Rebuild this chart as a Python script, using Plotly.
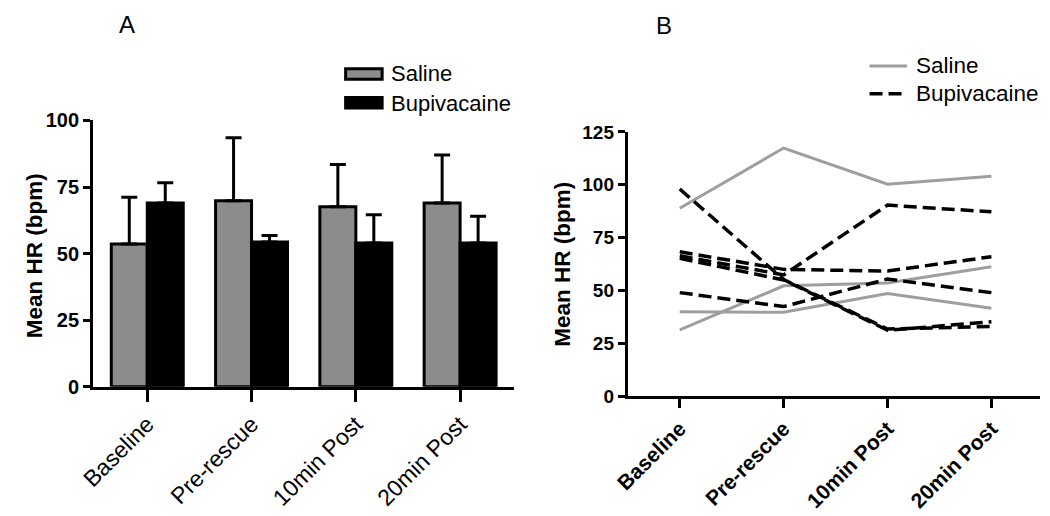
import plotly.graph_objects as go

W, H = 1050, 516

# ---------------- data ----------------
categories = ["Baseline", "Pre-rescue", "10min Post", "20min Post"]

# Panel A: group means and upper SD
saline_mean = [53.6, 69.8, 67.6, 69.0]
saline_err = [17.6, 23.7, 15.9, 18.0]
bupi_mean = [69.0, 54.3, 54.0, 54.0]
bupi_err = [7.6, 2.5, 10.6, 10.0]

# Panel B: individual animals
saline_lines = [
    [88.9, 117.4, 100.3, 104.0],
    [40.0, 39.7, 48.6, 41.6],
    [31.4, 52.2, 53.6, 61.2],
]
bupi_lines = [
    [98.0, 55.2, 31.8, 33.0],
    [68.3, 60.0, 59.2, 66.0],
    [66.4, 57.4, 90.4, 87.2],
    [65.2, 55.0, 31.2, 35.2],
    [49.0, 42.4, 55.4, 49.0],
]

y_ticks_a = [0, 25, 50, 75, 100]
y_ticks_b = [0, 25, 50, 75, 100, 125]

FONT = "Liberation Sans, Arial, sans-serif"
GRAY_BAR = "#8c8c8c"
GRAY_LINE = "#9e9e9e"
OFF = 8  # page body margin


def px(x):
    return (x - OFF) / W


def py(y):
    return 1 - (y - OFF) / H


fig = go.Figure()

# ---- Panel A bars ----
fig.add_trace(go.Bar(
    x=categories, y=saline_mean, name="Saline",
    marker=dict(color=GRAY_BAR, line=dict(color="black", width=3)),
    error_y=dict(type="data", symmetric=False, array=saline_err,
                 arrayminus=[0] * 4, color="black", thickness=3, width=8),
    xaxis="x", yaxis="y", showlegend=False,
))
fig.add_trace(go.Bar(
    x=categories, y=bupi_mean, name="Bupivacaine",
    marker=dict(color="black", line=dict(color="black", width=3)),
    error_y=dict(type="data", symmetric=False, array=bupi_err,
                 arrayminus=[0] * 4, color="black", thickness=3, width=8),
    xaxis="x", yaxis="y", showlegend=False,
))

# ---- Panel B lines ----
for vals in saline_lines:
    fig.add_trace(go.Scatter(
        x=categories, y=vals, mode="lines", name="Saline",
        line=dict(color=GRAY_LINE, width=3),
        xaxis="x2", yaxis="y2", showlegend=False,
    ))
for vals in bupi_lines:
    fig.add_trace(go.Scatter(
        x=categories, y=vals, mode="lines", name="Bupivacaine",
        line=dict(color="black", width=3.5, dash="13px,6px"),
        xaxis="x2", yaxis="y2", showlegend=False,
    ))

axis_common = dict(showgrid=False, zeroline=False, showline=True,
                   linecolor="black", linewidth=3, ticks="outside",
                   tickcolor="black", tickwidth=3)

fig.update_layout(
    width=W, height=H,
    margin=dict(l=0, r=0, t=0, b=0),
    paper_bgcolor="white", plot_bgcolor="white",
    barmode="group", bargap=0.31, bargroupgap=0,
    font=dict(family=FONT, color="black"),
    xaxis=dict(domain=[px(80), px(507)], anchor="y",
               range=[-0.52, 3.52], tickangle=-45, ticklen=12,
               tickfont=dict(size=23, family=FONT, color="black"),
               **axis_common),
    yaxis=dict(domain=[py(392), py(114)], anchor="x",
               range=[0, 100], tickvals=y_ticks_a, ticklen=7,
               tickfont=dict(size=20, family=FONT, color="black", weight="bold"),
               **axis_common),
    xaxis2=dict(domain=[px(622), px(1040)], anchor="y2",
                range=[-0.5, 3.47], tickangle=-45, ticklen=9,
                tickfont=dict(size=21, family=FONT, color="black", weight="bold"),
                **axis_common),
    yaxis2=dict(domain=[py(402), py(126)], anchor="x2",
                range=[0, 125], tickvals=y_ticks_b, ticklen=7,
                tickfont=dict(size=19, family=FONT, color="black", weight="bold"),
                **axis_common),
)


def text(t, x, y, size, xanchor="center", angle=0):
    return dict(text=t, x=px(x), y=py(y), xref="paper", yref="paper",
                xanchor=xanchor, yanchor="middle", showarrow=False,
                textangle=angle, font=dict(size=size, family=FONT, color="black"))


annotations = [
    text("A", 114, 14, 24),
    text("B", 659, 15, 24),
    text("<b>Mean HR (bpm)</b>", 21, 255, 22.5, angle=-90),
    text("<b>Mean HR (bpm)</b>", 555, 264, 22.5, angle=-90),
    text("Saline", 380, 65, 22, xanchor="left"),
    text("Bupivacaine", 380, 96, 22, xanchor="left"),
    text("Saline", 912, 57, 22.5, xanchor="left"),
    text("Bupivacaine", 912, 86, 22.5, xanchor="left"),
]
fig.update_layout(annotations=annotations)

shapes = [
    dict(type="rect", xref="paper", yref="paper",
         x0=px(336), x1=px(373), y0=py(71), y1=py(60),
         fillcolor=GRAY_BAR, line=dict(color="black", width=3)),
    dict(type="rect", xref="paper", yref="paper",
         x0=px(336), x1=px(373), y0=py(101), y1=py(90),
         fillcolor="black", line=dict(color="black", width=3)),
    dict(type="line", xref="paper", yref="paper",
         x0=px(867), x1=px(905), y0=py(57), y1=py(57),
         line=dict(color=GRAY_LINE, width=3)),
    dict(type="line", xref="paper", yref="paper",
         x0=px(867), x1=px(905), y0=py(86), y1=py(86),
         line=dict(color="black", width=3.5, dash="13px,6px")),
]
fig.update_layout(shapes=shapes)

fig.write_html("out.html")
